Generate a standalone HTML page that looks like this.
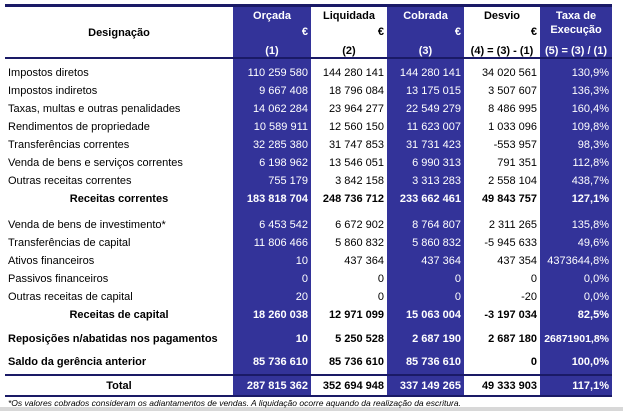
<!DOCTYPE html>
<html><head><meta charset="utf-8"><style>
body{margin:0;width:623px;height:411px;background:#fff;position:relative;overflow:hidden;font-family:"Liberation Sans",Arial,sans-serif;font-size:11px;color:#000}
.b{position:absolute;top:5px;height:391px;background:#333399}
.hl{position:absolute;left:5px;width:607px;background:#1a1a66}
.t{position:absolute;white-space:nowrap;line-height:14px}
.r{text-align:right}
.w{color:#fff}
.bd{font-weight:bold}
</style></head><body>
<div class="b" style="left:233px;width:78px"></div>
<div class="b" style="left:387px;width:77px"></div>
<div class="b" style="left:540px;width:72px"></div>
<div class="hl" style="top:4px;height:3px"></div>
<div class="hl" style="top:57px;height:2px"></div>
<div class="hl" style="top:374px;height:2px"></div>
<div class="hl" style="top:395px;height:2px"></div>
<div style="position:absolute;left:0;top:407px;width:623px;height:4px;background:#d8d8d8"></div>
<div id="c"></div>
<script>
var cols=[[233,311,1],[311,387,0],[387,464,1],[464,540,0],[540,612,1]];
var h='';
function cell(ci,y,txt,bold,align,fs){var c=cols[ci];var cls='t'+(c[2]?' w':'')+(bold?' bd':'');var f=fs?'font-size:'+fs+'px;':'';
 if(align=='c')h+='<div class="'+cls+'" style="'+f+'left:'+c[0]+'px;width:'+(c[1]-c[0])+'px;top:'+(y-7)+'px;text-align:center">'+txt+'</div>';
 else h+='<div class="'+cls+' r" style="'+f+'left:'+c[0]+'px;width:'+(c[1]-c[0]-3)+'px;top:'+(y-7)+'px">'+txt+'</div>';}
var heads=['Orçada','Liquidada','Cobrada','Desvio'];
heads.forEach(function(t,i){cell(i,16,t,1,'c');cell(i,32,'€',1);});
cell(4,16,'Taxa de',1,'c');cell(4,30,'Execução',1,'c');
['(1)','(2)','(3)','(4) = (3) - (1)','(5) = (3) / (1)'].forEach(function(t,i){cell(i,51,t,1,'c')});
h+='<div class="t bd" style="left:5px;width:228px;text-align:center;top:26px">Designação</div>';
var rows=[
[73,'Impostos diretos',['110 259 580','144 280 141','144 280 141','34 020 561','130,9%'],0],
[91,'Impostos indiretos',['9 667 408','18 796 084','13 175 015','3 507 607','136,3%'],0],
[109,'Taxas, multas e outras penalidades',['14 062 284','23 964 277','22 549 279','8 486 995','160,4%'],0],
[127,'Rendimentos de propriedade',['10 589 911','12 560 150','11 623 007','1 033 096','109,8%'],0],
[145,'Transferências correntes',['32 285 380','31 747 853','31 731 423','-553 957','98,3%'],0],
[163,'Venda de bens e serviços correntes',['6 198 962','13 546 051','6 990 313','791 351','112,8%'],0],
[181,'Outras receitas correntes',['755 179','3 842 158','3 313 283','2 558 104','438,7%'],0],
[199,'Receitas correntes',['183 818 704','248 736 712','233 662 461','49 843 757','127,1%'],1],
[225,'Venda de bens de investimento*',['6 453 542','6 672 902','8 764 807','2 311 265','135,8%'],0],
[243,'Transferências de capital',['11 806 466','5 860 832','5 860 832','-5 945 633','49,6%'],0],
[261,'Ativos financeiros',['10','437 364','437 364','437 354','4373644,8%'],0],
[279,'Passivos financeiros',['0','0','0','0','0,0%'],0],
[297,'Outras receitas de capital',['20','0','0','-20','0,0%'],0],
[315,'Receitas de capital',['18 260 038','12 971 099','15 063 004','-3 197 034','82,5%'],1],
[339,'Reposições n/abatidas nos pagamentos',['10','5 250 528','2 687 190','2 687 180','26871901,8%'],2],
[362,'Saldo da gerência anterior',['85 736 610','85 736 610','85 736 610','0','100,0%'],2],
[386,'Total',['287 815 362','352 694 948','337 149 265','49 333 903','117,1%'],1]];
rows.forEach(function(r){
 var y=r[0];
 if(r[3]==1)h+='<div class="t bd" style="left:5px;width:228px;text-align:center;top:'+(y-7)+'px">'+r[1]+'</div>';
 else h+='<div class="t'+(r[3]?' bd':'')+'" style="left:8px;top:'+(y-7)+'px">'+r[1]+'</div>';
 r[2].forEach(function(v,i){cell(i,y,v,r[3]>0,null,(i==4&&r[0]==339)?10.5:0)});
});
h+='<div class="t" style="left:8px;top:396px;font-size:8.5px;font-style:italic">*Os valores cobrados consideram os adiantamentos de vendas. A liquidação ocorre aquando da realização da escritura.</div>';
document.getElementById('c').innerHTML=h;
</script>
</body></html>
